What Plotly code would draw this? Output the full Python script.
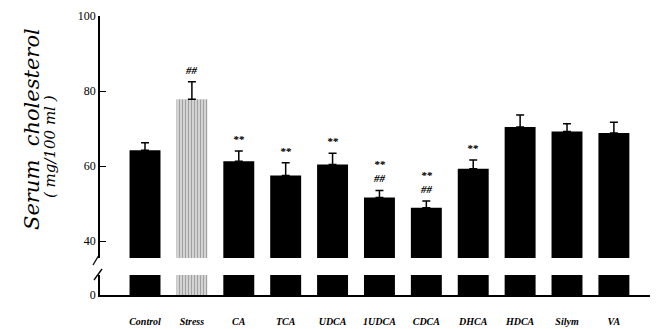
import plotly.graph_objects as go

categories = ["Control", "Stress", "CA", "TCA", "UDCA", "1UDCA", "CDCA", "DHCA", "HDCA", "Silym", "VA"]
means = [64.2, 77.8, 61.3, 57.5, 60.4, 51.6, 48.9, 59.3, 70.4, 69.2, 68.8]
errors = [2.0, 4.7, 2.7, 3.4, 3.0, 1.9, 1.8, 2.3, 3.2, 2.1, 2.9]
marks = ["", "##", "**", "**", "**", "**<br>##", "**<br>##", "**", "", "", ""]
y_ticks = [40, 60, 80, 100]

W, H = 656, 329
L, R, T, B = 100, 6, 16, 34
ph = H - T - B
pw = W - L - R
def py(p):
    return (H - B - p) / ph
def px(p):
    return (p - L) / pw

scale = 3.75  # px per unit
up_lo = 100 - (258 - 16) / scale
lo_hi = (295 - 275) / scale

patterns = ["" for _ in categories]
patterns[1] = "|"
bg = ["white" if p else "black" for p in patterns]

def bar_trace(yaxis, with_err):
    return go.Bar(
        x=categories, y=means, yaxis=yaxis, xaxis="x",
        width=0.66, offset=-0.33,
        marker=dict(color=bg, line=dict(width=0),
                    pattern=dict(shape=patterns, fgcolor="black", bgcolor="white",
                                 size=3, solidity=0.65, fillmode="overlay")),
        error_y=dict(type="data", symmetric=False, array=errors,
                     arrayminus=[0] * len(errors), color="black", thickness=1.5,
                     width=4, visible=with_err),
        showlegend=False, hoverinfo="skip",
    )

fig = go.Figure()
fig.add_trace(bar_trace("y", True))
fig.add_trace(bar_trace("y2", False))

ann = []
for c, m, e, t in zip(categories, means, errors, marks):
    if t:
        ann.append(dict(x=c, y=m + e, xref="x", yref="y", text="<b><i>" + t + "</i></b>",
                        showarrow=False, yanchor="bottom", yshift=4,
                        font=dict(family="Liberation Serif", size=11, color="black")))

ann.append(dict(x=px(32), y=py(129), xref="paper", yref="paper", textangle=-90,
                xanchor="center", yanchor="middle",
                text="<i>Serum  cholesterol</i>", showarrow=False,
                font=dict(family="DejaVu Serif", size=21, color="black")))
ann.append(dict(x=px(50), y=py(147), xref="paper", yref="paper", textangle=-90,
                xanchor="center", yanchor="middle",
                text="<i>( mg/100 ml )</i>", showarrow=False,
                font=dict(family="DejaVu Serif", size=15, color="black")))

shapes = [
    dict(type="line", xref="paper", yref="paper", x0=px(93), y0=py(265), x1=px(99), y1=py(255),
         line=dict(color="black", width=1.3)),
    dict(type="line", xref="paper", yref="paper", x0=px(94), y0=py(280), x1=px(102), y1=py(269),
         line=dict(color="black", width=1.3)),
]

fig.update_layout(
    width=W, height=H,
    margin=dict(l=L, r=R, t=T, b=B),
    paper_bgcolor="white", plot_bgcolor="white",
    xaxis=dict(domain=[0, 1], anchor="y2", range=[-0.96, 10.77], automargin=False,
               showline=True, linecolor="black", linewidth=1.5,
               ticks="", showgrid=False, ticklabelstandoff=16,
               tickfont=dict(family="Liberation Serif", size=10, color="black"),
               tickprefix="<b><i>", ticksuffix="</i></b>"),
    yaxis=dict(domain=[py(258), 1], range=[up_lo, 100], tickvals=y_ticks, automargin=False,
               ticks="inside", ticklen=6, tickwidth=1.3, tickcolor="black",
               showline=True, linecolor="black", linewidth=1.5, showgrid=False,
               zeroline=False,
               tickfont=dict(family="Liberation Serif", size=12, color="black")),
    yaxis2=dict(domain=[0, py(275)], range=[0, lo_hi], tickvals=[0], automargin=False,
                ticks="inside", ticklen=6, tickwidth=1.3, tickcolor="black",
                showline=True, linecolor="black", linewidth=1.5, showgrid=False,
                zeroline=False,
                tickfont=dict(family="Liberation Serif", size=12, color="black")),
    annotations=ann,
    shapes=shapes,
)

fig.write_html("out.html")
